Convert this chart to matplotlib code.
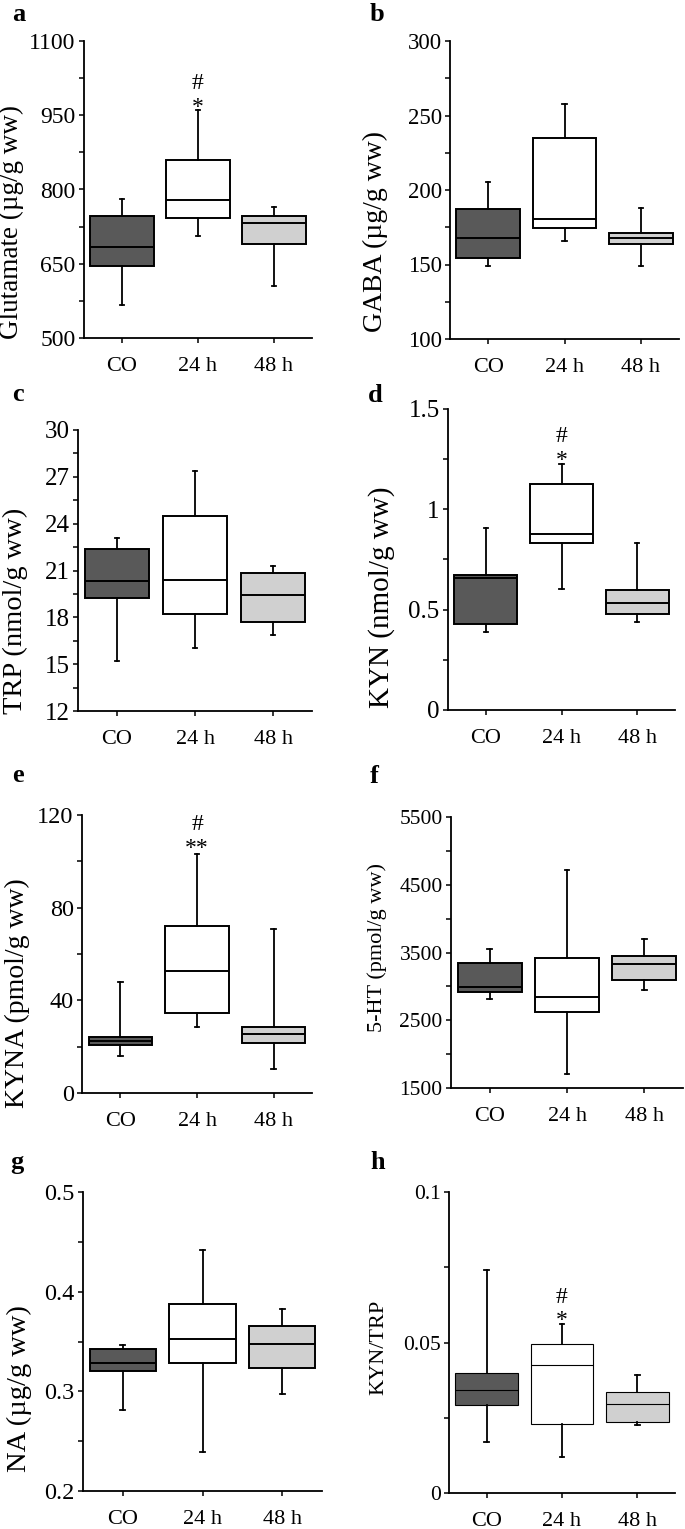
import matplotlib
matplotlib.use("Agg")
import numpy as np
import matplotlib.pyplot as plt
from matplotlib.ticker import FixedLocator

plt.rcParams['font.family'] = ['Liberation Serif', 'DejaVu Serif']

W, H = 685, 1529

# === Data (box stats) ===
groups = ["CO", "24 h", "48 h"]
fills = ["#595959", "#ffffff", "#d0d0d0"]

# a: Glutamate
glu_lo = [567, 706, 606]
glu_q1 = [645, 743, 689]
glu_med = [684, 778, 733]
glu_q3 = [746, 859, 746]
glu_hi = [780, 960, 765]

# b: GABA
gaba_lo = [148.7, 165.5, 149.2]
gaba_q1 = [154.3, 174.4, 163.7]
gaba_med = [167.7, 180.7, 167.7]
gaba_q3 = [187.4, 235.2, 171.1]
gaba_hi = [205.3, 257.8, 187.8]

# c: TRP
trp_lo = [15.2, 16.06, 16.87]
trp_q1 = [19.22, 18.19, 17.72]
trp_med = [20.35, 20.39, 19.43]
trp_q3 = [22.36, 24.49, 20.86]
trp_hi = [23.1, 27.37, 21.29]

# d: KYN
kyn_lo = [0.390, 0.603, 0.440]
kyn_q1 = [0.427, 0.831, 0.478]
kyn_med = [0.659, 0.877, 0.535]
kyn_q3 = [0.673, 1.125, 0.598]
kyn_hi = [0.909, 1.226, 0.834]

# e: KYNA
kyna_lo = [16.1, 28.7, 10.3]
kyna_q1 = [20.8, 34.5, 21.6]
kyna_med = [22.6, 52.5, 25.6]
kyna_q3 = [24.1, 72.3, 28.7]
kyna_hi = [48.1, 103.2, 70.7]

# f: 5-HT
ht_lo = [2815, 1706, 2948]
ht_q1 = [2923, 2629, 3095]
ht_med = [2997, 2850, 3326]
ht_q3 = [3340, 3424, 3448]
ht_hi = [3547, 4725, 3699]

# g: NA
na_lo = [0.2814, 0.2395, 0.2974]
na_q1 = [0.3199, 0.3289, 0.3239]
na_med = [0.3282, 0.3527, 0.3477]
na_q3 = [0.3426, 0.3878, 0.3651]
na_hi = [0.3467, 0.4414, 0.3828]

# h: KYN/TRP
ratio_lo = [0.0168, 0.0120, 0.0227]
ratio_q1 = [0.0291, 0.0230, 0.0235]
ratio_med = [0.0343, 0.0424, 0.0296]
ratio_q3 = [0.0399, 0.0495, 0.0336]
ratio_hi = [0.0740, 0.0563, 0.0391]

# === Panel setup ===
panels = [
    dict(letter='a', ylabel='Glutamate (µg/g ww)',
         stats=(glu_lo, glu_q1, glu_med, glu_q3, glu_hi),
         ylim=(500, 1100), step=150, fmt='{:.0f}', marks=[('#', 1015), ('*', 977)],
         box=(84, 41, 312, 338), lab=(24, 222), lfs=19.5, tfs=17, let=(12, 21), lw=1.4),
    dict(letter='b', ylabel='GABA (µg/g ww)',
         stats=(gaba_lo, gaba_q1, gaba_med, gaba_q3, gaba_hi),
         ylim=(100, 300), step=50, fmt='{:.0f}', marks=[],
         box=(450, 41, 679, 339), lab=(388, 232), lfs=20, tfs=16.5, let=(370, 21), lw=1.4),
    dict(letter='c', ylabel='TRP (nmol/g ww)',
         stats=(trp_lo, trp_q1, trp_med, trp_q3, trp_hi),
         ylim=(12, 30), step=3, fmt='{:.0f}', marks=[],
         box=(78, 430, 312, 711), lab=(28, 611), lfs=20.5, tfs=18, let=(12, 401), lw=1.4),
    dict(letter='d', ylabel='KYN (nmol/g ww)',
         stats=(kyn_lo, kyn_q1, kyn_med, kyn_q3, kyn_hi),
         ylim=(0, 1.5), step=0.5, fmt='{:g}', marks=[('#', 1.362), ('*', 1.271)],
         box=(448, 409, 675, 710), lab=(395, 597), lfs=21, tfs=18, let=(368, 402), lw=1.4),
    dict(letter='e', ylabel='KYNA (pmol/g ww)',
         stats=(kyna_lo, kyna_q1, kyna_med, kyna_q3, kyna_hi),
         ylim=(0, 120), step=40, fmt='{:.0f}', marks=[('#', 115.7), ('**', 107.9)],
         box=(82, 815, 312, 1093), lab=(30, 993), lfs=20, tfs=17.5, let=(12, 782), lw=1.4),
    dict(letter='f', ylabel='5-HT (pmol/g ww)',
         stats=(ht_lo, ht_q1, ht_med, ht_q3, ht_hi),
         ylim=(1500, 5500), step=1000, fmt='{:.0f}', marks=[],
         box=(451, 817, 683, 1088), lab=(387, 948), lfs=16, tfs=15.5, let=(370, 783), lw=1.4),
    dict(letter='g', ylabel='NA (µg/g ww)',
         stats=(na_lo, na_q1, na_med, na_q3, na_hi),
         ylim=(0.2, 0.5), step=0.1, fmt='{:.1f}', marks=[],
         box=(83, 1192, 322, 1491), lab=(32, 1389), lfs=20.5, tfs=17.5, let=(10, 1169), lw=1.4),
    dict(letter='h', ylabel='KYN/TRP',
         stats=(ratio_lo, ratio_q1, ratio_med, ratio_q3, ratio_hi),
         ylim=(0, 0.1), step=0.05, fmt='{:g}', marks=[('#', 0.0648), ('*', 0.0591)],
         box=(449, 1192, 675, 1493), lab=(388, 1347), lfs=16, tfs=15.5, let=(370, 1169), lw=0.8),
]

fig = plt.figure(figsize=(W / 100, H / 100), dpi=100)

for p in panels:
    l, t, r, b = p['box']
    ax = fig.add_axes([l / W, 1 - b / H, (r - l) / W, (b - t) / H])
    lo, q1, med, q3, hi = p['stats']
    bstats = [dict(whislo=lo[i], q1=q1[i], med=med[i], q3=q3[i], whishi=hi[i], label=g)
              for i, g in enumerate(groups)]
    res = ax.bxp(bstats, positions=[1, 2, 3], widths=0.83, patch_artist=True,
                 showfliers=False, capwidths=0.06,
                 boxprops=dict(edgecolor='black', linewidth=p['lw']),
                 medianprops=dict(color='black', linewidth=p['lw']),
                 whiskerprops=dict(color='black', linewidth=1.3),
                 capprops=dict(color='black', linewidth=1.3))
    for patch, c in zip(res['boxes'], fills):
        patch.set_facecolor(c)

    y0, y1 = p['ylim']
    step = p['step']
    majors = np.linspace(y0, y1, int(round((y1 - y0) / step)) + 1)
    minors = np.linspace(y0, y1, 2 * int(round((y1 - y0) / step)) + 1)
    ax.yaxis.set_major_locator(FixedLocator(majors))
    ax.yaxis.set_minor_locator(FixedLocator(minors))
    ax.set_yticklabels([p['fmt'].format(round(v, 4)) for v in majors])
    ax.set_ylim(y0, y1)
    ax.set_xlim(0.5, 3.5)
    ax.set_xticks([1, 2, 3])
    ax.set_xticklabels(groups, fontsize=16)

    for side in ['top', 'right']:
        ax.spines[side].set_visible(False)
    for side in ['left', 'bottom']:
        ax.spines[side].set_linewidth(1.3)

    ax.tick_params(axis='y', which='both', direction='out', length=3.5, width=1.1,
                   labelsize=p['tfs'], pad=2.5)
    ax.tick_params(axis='x', direction='out', length=3.5, width=1.1, pad=10)

    ax.set_ylabel(p['ylabel'], fontsize=p['lfs'])
    ax.yaxis.set_label_coords(p['lab'][0] / W, 1 - p['lab'][1] / H, transform=fig.transFigure)

    for txt, y in p['marks']:
        dy = -4 if '*' in txt else 0
        ax.annotate(txt, xy=(2, y), xytext=(0, dy), textcoords='offset points',
                    ha='center', va='center', fontsize=17)

    fig.text(p['let'][0] / W, 1 - p['let'][1] / H, p['letter'], fontweight='bold',
             fontsize=19, ha='left', va='baseline')

fig.savefig('out.png', dpi=100)
